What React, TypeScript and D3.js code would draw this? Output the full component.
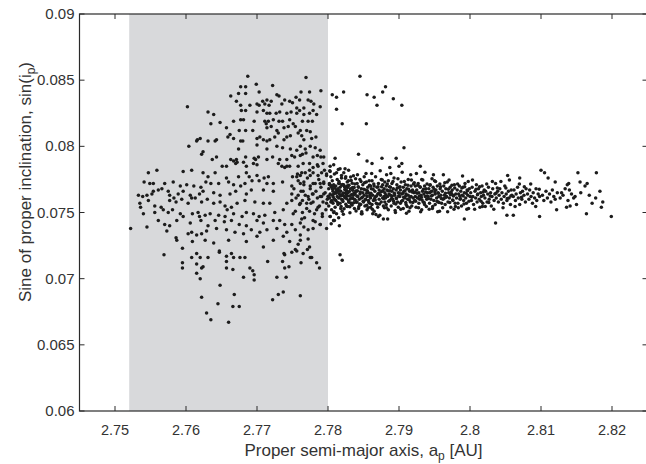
import React from "react";
import * as d3 from "d3";

type Pt = [number, number];

const xTicks = [2.75, 2.76, 2.77, 2.78, 2.79, 2.8, 2.81, 2.82];
const xTickLabels = ["2.75", "2.76", "2.77", "2.78", "2.79", "2.8", "2.81", "2.82"];
const yTicks = [0.06, 0.065, 0.07, 0.075, 0.08, 0.085, 0.09];
const yTickLabels = ["0.06", "0.065", "0.07", "0.075", "0.08", "0.085", "0.09"];
const xDomain = [2.745, 2.825];
const yDomain = [0.06, 0.09];
const shadedBand = [2.752, 2.78];

const grayUpper: Pt[] = [
  [2.7687,0.0853],[2.7769,0.0852],[2.7699,0.0847],[2.7722,0.0846],[2.7677,0.0845],[2.7684,0.0845],[2.7703,0.0841],[2.7762,0.0841],[2.7774,0.0841],[2.7790,0.0842],[2.7663,0.0838],[2.7674,0.0840],[2.7684,0.0840],[2.7728,0.0839],[2.7731,0.0838],[2.7755,0.0837],
  [2.7671,0.0834],[2.7708,0.0834],[2.7714,0.0835],[2.7720,0.0834],[2.7739,0.0835],[2.7746,0.0834],[2.7750,0.0833],[2.7760,0.0835],[2.7772,0.0835],[2.7776,0.0834],[2.7780,0.0832],
  [2.7602,0.0830],[2.7677,0.0831],[2.7690,0.0831],[2.7700,0.0832],[2.7703,0.0831],[2.7711,0.0832],[2.7717,0.0831],[2.7735,0.0832],[2.7756,0.0829],[2.7760,0.0827],[2.7766,0.0829],[2.7779,0.0827],[2.7789,0.0830],
  [2.7631,0.0826],[2.7639,0.0824],[2.7678,0.0827],[2.7684,0.0827],[2.7700,0.0826],[2.7709,0.0827],[2.7714,0.0825],[2.7718,0.0825],[2.7727,0.0825],[2.7732,0.0826],[2.7742,0.0825],[2.7748,0.0826],[2.7756,0.0825],[2.7766,0.0824],[2.7774,0.0825],[2.7784,0.0824],
  [2.7635,0.0817],[2.7648,0.0818],[2.7667,0.0819],[2.7677,0.0820],[2.7681,0.0820],[2.7696,0.0819],[2.7711,0.0819],[2.7716,0.0819],[2.7713,0.0817],[2.7723,0.0820],[2.7731,0.0819],[2.7736,0.0819],[2.7746,0.0820],[2.7751,0.0817],[2.7764,0.0819],[2.7772,0.0819],[2.7778,0.0819],
  [2.7657,0.0814],[2.7675,0.0812],[2.7684,0.0812],[2.7694,0.0812],[2.7714,0.0814],[2.7720,0.0815],[2.7728,0.0812],[2.7738,0.0814],[2.7744,0.0815],[2.7754,0.0815],[2.7761,0.0812],[2.7770,0.0812],[2.7775,0.0811],
  [2.7616,0.0805],[2.7615,0.0804],[2.7620,0.0806],[2.7631,0.0804],[2.7641,0.0804],[2.7643,0.0805],[2.7659,0.0807],[2.7662,0.0809],[2.7667,0.0806],[2.7677,0.0804],[2.7680,0.0804],[2.7700,0.0806],[2.7704,0.0807],[2.7709,0.0805],[2.7714,0.0804],[2.7718,0.0805],[2.7725,0.0807],[2.7730,0.0810],[2.7738,0.0805],[2.7742,0.0807],[2.7747,0.0808],[2.7758,0.0810],[2.7763,0.0808],[2.7766,0.0805],[2.7777,0.0806],[2.7783,0.0807],
  [2.7604,0.0800],[2.7622,0.0794],[2.7624,0.0796],[2.7674,0.0798],[2.7700,0.0801],[2.7714,0.0798],[2.7728,0.0800],[2.7736,0.0799],[2.7747,0.0798],[2.7756,0.0797],[2.7761,0.0800],[2.7768,0.0798],[2.7775,0.0800],[2.7782,0.0799],[2.7789,0.0797],
  [2.7637,0.0790],[2.7643,0.0792],[2.7663,0.0790],[2.7667,0.0789],[2.7671,0.0790],[2.7684,0.0792],[2.7696,0.0791],[2.7698,0.0790],[2.7702,0.0792],[2.7714,0.0790],[2.7722,0.0792],[2.7732,0.0790],[2.7742,0.0790],[2.7749,0.0793],[2.7753,0.0792],[2.7761,0.0793],[2.7764,0.0794],[2.7769,0.0795],[2.7779,0.0792],[2.7785,0.0793],[2.7790,0.0792],[2.7794,0.0792],
];

const grayMiddle: Pt[] = [
  [2.7651,0.0785],[2.7657,0.0785],[2.7670,0.0787],[2.7672,0.0788],[2.7681,0.0788],[2.7685,0.0785],[2.7695,0.0787],[2.7700,0.0786],[2.7730,0.0787],[2.7735,0.0785],[2.7739,0.0784],[2.7742,0.0785],[2.7746,0.0785],[2.7758,0.0785],[2.7765,0.0787],[2.7774,0.0787],[2.7779,0.0784],[2.7785,0.0786],[2.7793,0.0787],[2.7803,0.0785],[2.7808,0.0786],[2.7817,0.0783],[2.7824,0.0783],[2.7829,0.0782],
  [2.7547,0.0780],[2.7559,0.0782],[2.7596,0.0781],[2.7608,0.0782],[2.7624,0.0780],[2.7631,0.0777],[2.7641,0.0780],[2.7657,0.0776],[2.7674,0.0777],[2.7685,0.0780],[2.7689,0.0777],[2.7700,0.0778],[2.7710,0.0776],[2.7716,0.0777],[2.7750,0.0777],[2.7756,0.0777],[2.7761,0.0778],[2.7763,0.0780],[2.7768,0.0780],[2.7775,0.0778],[2.7779,0.0780],[2.7786,0.0778],[2.7791,0.0780],[2.7798,0.0778],[2.7803,0.0781],[2.7812,0.0780],[2.7819,0.0778],[2.7825,0.0777],
  [2.7541,0.0773],[2.7549,0.0772],[2.7554,0.0772],[2.7570,0.0772],[2.7582,0.0773],[2.7592,0.0770],[2.7601,0.0771],[2.7611,0.0770],[2.7621,0.0769],[2.7628,0.0773],[2.7635,0.0772],[2.7646,0.0772],[2.7660,0.0773],[2.7667,0.0771],[2.7677,0.0770],[2.7683,0.0772],[2.7693,0.0774],[2.7703,0.0774],[2.7714,0.0772],[2.7723,0.0772],[2.7736,0.0773],[2.7749,0.0770],[2.7761,0.0772],[2.7766,0.0773],[2.7775,0.0770],[2.7782,0.0772],[2.7789,0.0772],[2.7794,0.0772],[2.7802,0.0771],[2.7808,0.0770],[2.7815,0.0772],[2.7822,0.0771],[2.7827,0.0770],
  [2.7533,0.0763],[2.7539,0.0762],[2.7545,0.0763],[2.7552,0.0764],[2.7554,0.0766],[2.7561,0.0767],[2.7566,0.0768],[2.7575,0.0766],[2.7577,0.0763],[2.7589,0.0764],[2.7596,0.0766],[2.7606,0.0763],[2.7613,0.0761],[2.7619,0.0764],[2.7624,0.0766],[2.7639,0.0765],[2.7648,0.0763],[2.7662,0.0764],[2.7670,0.0766],[2.7685,0.0764],[2.7692,0.0767],[2.7709,0.0767],[2.7723,0.0766],[2.7749,0.0764],[2.7758,0.0763],[2.7765,0.0766],[2.7772,0.0762],[2.7779,0.0764],[2.7789,0.0762],[2.7794,0.0764],[2.7800,0.0762],[2.7808,0.0764],[2.7815,0.0766],[2.7819,0.0763],[2.7826,0.0764],
  [2.7535,0.0757],[2.7536,0.0754],[2.7547,0.0759],[2.7556,0.0755],[2.7565,0.0754],[2.7577,0.0759],[2.7583,0.0761],[2.7586,0.0758],[2.7594,0.0760],[2.7603,0.0757],[2.7608,0.0761],[2.7622,0.0758],[2.7630,0.0760],[2.7639,0.0757],[2.7648,0.0758],[2.7655,0.0755],[2.7664,0.0754],[2.7672,0.0757],[2.7683,0.0759],[2.7697,0.0758],[2.7709,0.0757],[2.7718,0.0757],[2.7742,0.0757],[2.7749,0.0759],[2.7761,0.0757],[2.7770,0.0757],[2.7779,0.0758],[2.7786,0.0754],[2.7798,0.0757],[2.7805,0.0759],
];

const grayLower: Pt[] = [
  [2.7540,0.0749],[2.7556,0.0750],[2.7568,0.0752],[2.7575,0.0750],[2.7581,0.0752],[2.7592,0.0749],[2.7596,0.0747],[2.7609,0.0749],[2.7617,0.0750],[2.7619,0.0747],[2.7627,0.0748],[2.7634,0.0749],[2.7646,0.0748],[2.7655,0.0747],[2.7658,0.0752],[2.7667,0.0749],[2.7679,0.0747],[2.7685,0.0750],[2.7695,0.0749],[2.7703,0.0747],[2.7711,0.0748],[2.7725,0.0750],[2.7737,0.0752],[2.7751,0.0749],[2.7764,0.0750],[2.7774,0.0751],[2.7784,0.0752],[2.7792,0.0749],[2.7803,0.0747],[2.7808,0.0750],
  [2.7545,0.0739],[2.7561,0.0744],[2.7570,0.0741],[2.7577,0.0740],[2.7587,0.0744],[2.7606,0.0742],[2.7621,0.0744],[2.7631,0.0740],[2.7641,0.0744],[2.7654,0.0743],[2.7664,0.0744],[2.7675,0.0741],[2.7685,0.0740],[2.7700,0.0744],[2.7709,0.0742],[2.7723,0.0744],[2.7732,0.0744],[2.7739,0.0741],[2.7749,0.0741],[2.7761,0.0742],[2.7766,0.0739],[2.7779,0.0744],[2.7789,0.0741],[2.7808,0.0744],[2.7816,0.0740],
  [2.7522,0.0738],[2.7573,0.0736],[2.7586,0.0731],[2.7603,0.0734],[2.7608,0.0735],[2.7615,0.0733],[2.7622,0.0734],[2.7629,0.0736],[2.7643,0.0738],[2.7657,0.0737],[2.7669,0.0735],[2.7681,0.0734],[2.7692,0.0737],[2.7704,0.0735],[2.7714,0.0737],[2.7728,0.0738],[2.7742,0.0735],[2.7754,0.0737],[2.7761,0.0733],[2.7772,0.0737],[2.7779,0.0738],[2.7798,0.0738],
  [2.7587,0.0729],[2.7609,0.0728],[2.7627,0.0729],[2.7639,0.0727],[2.7660,0.0729],[2.7685,0.0728],[2.7700,0.0732],[2.7709,0.0724],[2.7723,0.0729],[2.7737,0.0732],[2.7746,0.0728],[2.7761,0.0729],[2.7772,0.0730],
  [2.7569,0.0718],[2.7608,0.0716],[2.7615,0.0719],[2.7620,0.0716],[2.7631,0.0716],[2.7647,0.0720],[2.7657,0.0717],[2.7664,0.0719],[2.7667,0.0716],[2.7676,0.0716],[2.7683,0.0716],[2.7739,0.0718],[2.7749,0.0720],[2.7756,0.0721],[2.7765,0.0719],[2.7775,0.0716],
  [2.7595,0.0723],[2.7647,0.0721],[2.7771,0.0722],[2.7774,0.0724],[2.7758,0.0726],[2.7777,0.0716],[2.7738,0.0719],[2.7754,0.0722],
];

const grayTail: Pt[] = [
  [2.7595,0.0712],[2.7595,0.0708],[2.7615,0.0711],[2.7624,0.0709],[2.7622,0.0708],[2.7615,0.0704],[2.7620,0.0700],[2.7648,0.0695],[2.7622,0.0686],[2.7668,0.0688],[2.7645,0.0681],[2.7666,0.0679],[2.7675,0.0679],[2.7629,0.0674],[2.7635,0.0669],[2.7660,0.0667],
  [2.7681,0.0701],[2.7690,0.0708],[2.7694,0.0706],[2.7696,0.0703],[2.7696,0.0699],[2.7657,0.0713],[2.7657,0.0708],[2.7666,0.0707],[2.7715,0.0713],[2.7728,0.0701],[2.7741,0.0701],[2.7736,0.0713],[2.7739,0.0708],[2.7745,0.0709],[2.7762,0.0712],[2.7784,0.0712],[2.7788,0.0708],[2.7761,0.0687],[2.7722,0.0684],[2.7730,0.0688],[2.7737,0.0690],[2.7817,0.0718],[2.7820,0.0714],
];

const transitionPoints: Pt[] = [
  [2.7752,0.0768],[2.7755,0.0761],[2.7758,0.0774],[2.7760,0.0756],[2.7762,0.0766],[2.7764,0.0759],[2.7766,0.0771],[2.7768,0.0763],[2.7770,0.0753],[2.7771,0.0776],[2.7773,0.0760],[2.7775,0.0768],[2.7776,0.0757],[2.7778,0.0764],[2.7779,0.0772],[2.7781,0.0749],[2.7783,0.0766],[2.7785,0.0761],[2.7787,0.0775],[2.7788,0.0755],[2.7790,0.0769],[2.7791,0.0762],[2.7793,0.0758],[2.7794,0.0773],[2.7796,0.0765],[2.7797,0.0752],[2.7798,0.0779],[2.7799,0.0760],
  [2.7754,0.0751],[2.7767,0.0746],[2.7774,0.0782],[2.7782,0.0743],[2.7786,0.0785],[2.7792,0.0747],[2.7795,0.0782],[2.7757,0.0779],[2.7763,0.0745],[2.7789,0.0741],
];

const clusterWest: Pt[] = [
  [2.7801,0.0768],[2.7801,0.0755],[2.7802,0.0772],[2.7802,0.0761],[2.7803,0.0747],[2.7803,0.0764],[2.7804,0.0777],[2.7804,0.0758],[2.7805,0.0769],[2.7805,0.0752],[2.7806,0.0763],[2.7806,0.0774],[2.7807,0.0757],[2.7807,0.0766],[2.7808,0.0744],[2.7808,0.0771],[2.7809,0.0760],[2.7809,0.0779],[2.7810,0.0765],[2.7810,0.0754],[2.7811,0.0770],[2.7811,0.0759],[2.7812,0.0767],[2.7812,0.0749],[2.7813,0.0762],[2.7813,0.0775],[2.7814,0.0756],[2.7814,0.0768],[2.7815,0.0761],[2.7815,0.0746],[2.7816,0.0772],[2.7816,0.0764],[2.7817,0.0757],[2.7817,0.0769],[2.7818,0.0753],[2.7818,0.0766],[2.7819,0.0776],[2.7819,0.0760],[2.7820,0.0763],[2.7820,0.0751],
  [2.78015,0.07625],[2.78035,0.07705],[2.78055,0.07585],[2.78075,0.07615],[2.78095,0.07685],[2.78115,0.07645],[2.78135,0.07575],[2.78155,0.07735],[2.78175,0.07625],[2.78195,0.07705],[2.78025,0.07815],[2.78085,0.07505],[2.78145,0.07825],[2.78045,0.07415],[2.78125,0.07655],[2.78185,0.07545],[2.78065,0.07675],[2.78105,0.07595],[2.78165,0.07665],[2.78205,0.07595],
  [2.78204,0.07712],[2.78211,0.07583],[2.78219,0.07647],[2.78226,0.07528],[2.78232,0.07694],[2.78238,0.07611],[2.78245,0.07759],[2.78251,0.07562],[2.78259,0.07668],[2.78263,0.07603],[2.78271,0.07731],[2.78277,0.07545],[2.78284,0.07652],[2.78290,0.07589],[2.78296,0.07706],[2.78302,0.07624],[2.78309,0.07498],[2.78315,0.07679],[2.78322,0.07571],[2.78327,0.07742],[2.78333,0.07636],[2.78340,0.07556],[2.78346,0.07689],[2.78353,0.07605],[2.78358,0.07778],[2.78365,0.07648],[2.78372,0.07531],[2.78378,0.07715],[2.78384,0.07594],[2.78391,0.07663],[2.78397,0.07577],
  [2.78208,0.07639],[2.78222,0.07801],[2.78236,0.07673],[2.78249,0.07617],[2.78262,0.07547],[2.78275,0.07688],[2.78288,0.07739],[2.78301,0.07658],[2.78314,0.07602],[2.78329,0.07566],[2.78341,0.07721],[2.78356,0.07631],[2.78369,0.07689],[2.78382,0.07642],[2.78395,0.07512],[2.78216,0.07486],[2.78243,0.07692],[2.78268,0.07627],[2.78294,0.07578],[2.78319,0.07768],[2.78348,0.07669],[2.78374,0.07598],[2.78389,0.07755],[2.78228,0.07622],[2.78257,0.07653],[2.78281,0.07701],[2.78307,0.07544],[2.78336,0.07612],[2.78362,0.07574],
  [2.7840,0.0766],[2.7841,0.0758],[2.7841,0.0772],[2.7842,0.0762],[2.7843,0.0753],[2.7843,0.0769],[2.7844,0.0760],[2.7845,0.0775],[2.7845,0.0764],[2.7846,0.0756],[2.7847,0.0768],[2.7847,0.0761],[2.7848,0.0749],[2.7849,0.0771],[2.7849,0.0765],[2.7850,0.0758],[2.7851,0.0763],[2.7851,0.0777],[2.7852,0.0755],[2.7853,0.0767],[2.7853,0.0760],[2.7854,0.0773],[2.7855,0.0762],[2.7855,0.0752],[2.7856,0.0769],[2.7857,0.0759],[2.7857,0.0765],[2.7858,0.0774],[2.7859,0.0757],[2.7859,0.0763],[2.7860,0.0770],[2.7860,0.0754],
  [2.78405,0.07625],[2.78425,0.07695],[2.78445,0.07565],[2.78465,0.07735],[2.78485,0.07615],[2.78505,0.07675],[2.78525,0.07595],[2.78545,0.07645],[2.78565,0.07535],[2.78585,0.07705],[2.78415,0.07785],[2.78475,0.07505],[2.78535,0.07795],[2.78595,0.07615],[2.78455,0.07655],[2.78515,0.07725],[2.78575,0.07575],[2.78435,0.07545],[2.78495,0.07585],[2.78555,0.07665],[2.78415,0.07665],[2.78545,0.07555],
  [2.7860,0.0761],[2.7861,0.0768],[2.7862,0.0756],[2.7862,0.0774],[2.7863,0.0763],[2.7864,0.0759],[2.7865,0.0770],[2.7865,0.0751],[2.7866,0.0766],[2.7867,0.0762],[2.7867,0.0777],[2.7868,0.0757],[2.7869,0.0769],[2.7870,0.0764],[2.7870,0.0754],[2.7871,0.0772],[2.7872,0.0760],[2.7872,0.0767],[2.7873,0.0748],[2.7874,0.0763],[2.7875,0.0775],[2.7875,0.0758],[2.7876,0.0766],[2.7877,0.0761],[2.7877,0.0771],[2.7878,0.0755],[2.7879,0.0768],[2.7879,0.0762],[2.7880,0.0758],[2.7880,0.0773],
  [2.78605,0.07645],[2.78625,0.07525],[2.78645,0.07715],[2.78665,0.07595],[2.78685,0.07625],[2.78705,0.07695],[2.78725,0.07565],[2.78745,0.07655],[2.78765,0.07745],[2.78785,0.07605],[2.78615,0.07795],[2.78675,0.07485],[2.78735,0.07815],[2.78795,0.07535],[2.78635,0.07675],[2.78695,0.07565],[2.78755,0.07695],[2.78655,0.07605],[2.78715,0.07645],[2.78775,0.07665],
  [2.7880,0.0765],[2.7881,0.0761],[2.7882,0.0770],[2.7882,0.0756],[2.7883,0.0767],[2.7884,0.0762],[2.7885,0.0774],[2.7885,0.0752],[2.7886,0.0764],[2.7887,0.0759],[2.7888,0.0769],[2.7888,0.0763],[2.7889,0.0755],[2.7890,0.0772],[2.7890,0.0766],[2.7891,0.0760],[2.7892,0.0768],[2.7893,0.0757],[2.7893,0.0776],[2.7894,0.0763],[2.7895,0.0750],[2.7896,0.0767],[2.7896,0.0761],[2.7897,0.0771],[2.7898,0.0758],[2.7899,0.0765],[2.7899,0.0754],[2.7900,0.0769],
  [2.78815,0.07635],[2.78835,0.07715],[2.78855,0.07585],[2.78875,0.07665],[2.78895,0.07605],[2.78915,0.07735],[2.78935,0.07645],[2.78955,0.07565],[2.78975,0.07685],[2.78995,0.07625],[2.78825,0.07535],[2.78885,0.07795],[2.78945,0.07515],[2.78865,0.07695],[2.78925,0.07585],[2.78985,0.07755],[2.78845,0.07665],[2.78905,0.07625],[2.78965,0.07605],[2.78825,0.07785],
];

const clusterEast: Pt[] = [
  [2.7901,0.0762],[2.7902,0.0767],[2.7902,0.0757],[2.7903,0.0773],[2.7904,0.0764],[2.7905,0.0759],[2.7906,0.0769],[2.7906,0.0753],[2.7907,0.0766],[2.7908,0.0761],[2.7909,0.0771],[2.7910,0.0756],[2.7910,0.0764],[2.7911,0.0768],[2.7912,0.0760],[2.7913,0.0775],[2.7913,0.0763],[2.7914,0.0751],[2.7915,0.0766],[2.7916,0.0758],[2.7917,0.0770],[2.7917,0.0762],[2.7918,0.0755],[2.7919,0.0767],[2.7920,0.0761],
  [2.79015,0.07695],[2.79035,0.07585],[2.79055,0.07645],[2.79075,0.07735],[2.79095,0.07625],[2.79115,0.07545],[2.79135,0.07675],[2.79155,0.07615],[2.79175,0.07745],[2.79195,0.07575],[2.79045,0.07805],[2.79105,0.07495],[2.79165,0.07785],[2.79025,0.07525],[2.79085,0.07665],[2.79145,0.07595],[2.79185,0.07655],[2.79065,0.07615],[2.79125,0.07705],[2.79005,0.07645],[2.79155,0.07535],[2.79205,0.07715],[2.79095,0.07575],
  [2.7921,0.0765],[2.7922,0.0759],[2.7923,0.0770],[2.7923,0.0762],[2.7924,0.0754],[2.7925,0.0767],[2.7926,0.0761],[2.7927,0.0772],[2.7928,0.0757],[2.7928,0.0765],[2.7929,0.0760],[2.7930,0.0769],[2.7931,0.0763],[2.7932,0.0752],[2.7932,0.0775],[2.7933,0.0766],[2.7934,0.0758],[2.7935,0.0764],[2.7936,0.0770],[2.7936,0.0756],[2.7937,0.0762],[2.7938,0.0768],[2.7939,0.0760],[2.7940,0.0765],
  [2.79215,0.07725],[2.79235,0.07585],[2.79255,0.07645],[2.79275,0.07535],[2.79295,0.07695],[2.79315,0.07615],[2.79335,0.07745],[2.79355,0.07575],[2.79375,0.07655],[2.79395,0.07715],[2.79245,0.07795],[2.79305,0.07505],[2.79365,0.07805],[2.79285,0.07625],[2.79345,0.07675],[2.79225,0.07655],[2.79385,0.07545],[2.79265,0.07705],[2.79325,0.07595],[2.79395,0.07625],
  [2.7941,0.0762],[2.7942,0.0768],[2.7943,0.0757],[2.7943,0.0765],[2.7944,0.0771],[2.7945,0.0760],[2.7946,0.0766],[2.7947,0.0753],[2.7947,0.0763],[2.7948,0.0769],[2.7949,0.0759],[2.7950,0.0774],[2.7951,0.0764],[2.7951,0.0756],[2.7952,0.0767],[2.7953,0.0761],[2.7954,0.0770],[2.7955,0.0758],[2.7955,0.0765],[2.7956,0.0762],[2.7957,0.0751],[2.7958,0.0768],[2.7959,0.0763],[2.7960,0.0757],
  [2.79415,0.07605],[2.79435,0.07705],[2.79455,0.07625],[2.79475,0.07545],[2.79495,0.07675],[2.79515,0.07735],[2.79535,0.07585],[2.79555,0.07645],[2.79575,0.07715],[2.79595,0.07605],[2.79425,0.07525],[2.79485,0.07785],[2.79545,0.07505],[2.79505,0.07655],[2.79565,0.07575],[2.79445,0.07655],[2.79585,0.07695],[2.79465,0.07755],
  [2.7961,0.0766],[2.7962,0.0760],[2.7963,0.0770],[2.7964,0.0763],[2.7965,0.0756],[2.7966,0.0768],[2.7967,0.0762],[2.7968,0.0773],[2.7969,0.0758],[2.7970,0.0765],[2.7971,0.0761],[2.7972,0.0769],[2.7973,0.0754],[2.7974,0.0764],[2.7975,0.0767],[2.7976,0.0759],[2.7977,0.0763],[2.7978,0.0771],[2.7979,0.0757],[2.7980,0.0764],
  [2.79615,0.07535],[2.79645,0.07725],[2.79665,0.07615],[2.79695,0.07675],[2.79715,0.07575],[2.79745,0.07705],[2.79765,0.07625],[2.79795,0.07545],[2.79625,0.07785],[2.79685,0.07505],[2.79735,0.07655],[2.79785,0.07685],[2.79655,0.07645],[2.79705,0.07745],[2.79755,0.07595],[2.79635,0.07605],[2.79775,0.07525],[2.79725,0.07635],
  [2.7981,0.0761],[2.7982,0.0767],[2.7983,0.0757],[2.7984,0.0764],[2.7985,0.0770],[2.7986,0.0760],[2.7987,0.0766],[2.7988,0.0755],[2.7989,0.0763],[2.7990,0.0769],[2.7991,0.0759],[2.7992,0.0765],[2.7993,0.0772],[2.7994,0.0761],[2.7995,0.0757],[2.7996,0.0767],[2.7997,0.0763],[2.7998,0.0753],[2.7999,0.0768],[2.8000,0.0762],
  [2.79825,0.07715],[2.79855,0.07625],[2.79885,0.07685],[2.79915,0.07565],[2.79945,0.07645],[2.79975,0.07735],[2.79835,0.07535],[2.79895,0.07775],[2.79955,0.07525],[2.79865,0.07605],[2.79925,0.07695],[2.79985,0.07585],[2.79905,0.07625],[2.79965,0.07665],
];

const clusterTail: Pt[] = [
  [2.8001,0.0765],[2.8002,0.0759],[2.8003,0.0769],[2.8004,0.0762],[2.8005,0.0756],[2.8007,0.0766],[2.8008,0.0761],[2.8009,0.0771],[2.8010,0.0758],[2.8011,0.0764],[2.8012,0.0768],[2.8013,0.0760],[2.8014,0.0754],[2.8015,0.0765],[2.8016,0.0762],[2.8017,0.0770],[2.8018,0.0757],[2.8019,0.0763],[2.8020,0.0767],
  [2.80035,0.07745],[2.80065,0.07525],[2.80105,0.07635],[2.80135,0.07695],[2.80155,0.07585],[2.80185,0.07655],[2.80025,0.07615],[2.80085,0.07675],[2.80175,0.07545],
  [2.8021,0.0761],[2.8022,0.0766],[2.8024,0.0758],[2.8025,0.0764],[2.8026,0.0769],[2.8027,0.0760],[2.8029,0.0765],[2.8030,0.0755],[2.8031,0.0762],[2.8032,0.0768],[2.8034,0.0759],[2.8035,0.0764],[2.8036,0.0772],[2.8037,0.0761],[2.8039,0.0766],[2.8040,0.0758],
  [2.80235,0.07715],[2.80285,0.07625],[2.80335,0.07525],[2.80385,0.07685],[2.80265,0.07575],[2.80315,0.07735],[2.80365,0.07645],[2.80215,0.07545],
  [2.8041,0.0763],[2.8042,0.0768],[2.8044,0.0760],[2.8045,0.0765],[2.8047,0.0757],[2.8048,0.0762],[2.8049,0.0770],[2.8051,0.0764],[2.8052,0.0759],[2.8054,0.0766],[2.8055,0.0761],[2.8057,0.0756],[2.8058,0.0767],[2.8059,0.0763],
  [2.80435,0.07735],[2.80465,0.07535],[2.80505,0.07685],[2.80555,0.07745],[2.80575,0.07625],[2.80525,0.07605],
  [2.8061,0.0762],[2.8062,0.0767],[2.8064,0.0759],[2.8065,0.0764],[2.8067,0.0769],[2.8068,0.0761],[2.8070,0.0756],[2.8071,0.0765],[2.8073,0.0760],[2.8074,0.0766],[2.8076,0.0763],[2.8078,0.0758],[2.8079,0.0768],
  [2.80635,0.07545],[2.80695,0.07715],[2.80725,0.07615],[2.80765,0.07695],
  [2.8081,0.0764],[2.8083,0.0760],[2.8084,0.0767],[2.8086,0.0762],[2.8088,0.0757],[2.8089,0.0765],[2.8091,0.0761],[2.8093,0.0768],[2.8094,0.0759],[2.8096,0.0764],[2.8098,0.0762],
  [2.80855,0.07715],[2.80925,0.07545],[2.80975,0.07675],
  [2.8102,0.0763],[2.8104,0.0759],[2.8107,0.0766],[2.8109,0.0761],[2.8112,0.0764],[2.8114,0.0758],[2.8116,0.0767],[2.8118,0.0762],[2.8120,0.0760],
  [2.8123,0.0765],[2.8127,0.0761],[2.8131,0.0763],[2.8134,0.0768],[2.8138,0.0759],[2.8143,0.0764],[2.8148,0.0762],[2.8156,0.0765],
  [2.8168,0.0763],[2.8172,0.0757],[2.8183,0.0766],
];

const scatteredOutliers: Pt[] = [
  [2.7845,0.0853],[2.7806,0.0839],[2.7812,0.0837],[2.7822,0.0841],[2.7812,0.0828],[2.7820,0.0817],[2.7855,0.0839],[2.7865,0.0837],[2.7869,0.0831],[2.7877,0.0841],[2.7881,0.0845],[2.7892,0.0836],[2.7904,0.0831],[2.7854,0.0817],[2.7907,0.0799],[2.7843,0.0794],[2.7810,0.0791],[2.7876,0.0791],[2.7896,0.0791],[2.7855,0.0789],[2.7862,0.0787],[2.7904,0.0787],[2.7900,0.0785],[2.7930,0.0785],[2.7887,0.0784],
  [2.8100,0.0782],[2.8105,0.0780],[2.8152,0.0780],[2.8178,0.0780],[2.8053,0.0778],[2.8070,0.0776],[2.8110,0.0776],[2.8120,0.0773],[2.8137,0.0771],[2.8139,0.0772],[2.8155,0.0773],[2.8162,0.0770],[2.8165,0.0772],[2.8129,0.0765],[2.8140,0.0767],[2.8146,0.0761],[2.8177,0.0761],[2.8187,0.0758],[2.8185,0.0754],[2.8164,0.0749],[2.8199,0.0747],[2.8150,0.0756],[2.8136,0.0754],[2.8141,0.0755],[2.8122,0.0752],[2.8098,0.0747],[2.8061,0.0748],[2.8052,0.0748],[2.8036,0.0742],[2.7992,0.0745],[2.7878,0.0745],[2.7884,0.0745],[2.7871,0.0747],[2.7863,0.0749],[2.7847,0.0749],[2.7809,0.0744],
];

const W = 646;
const H = 464;
const left = 79.5;
const right = 647.5;
const top = 14;
const bottom = 411;

export default function App() {
  const x = d3.scaleLinear().domain(xDomain).range([left, right]);
  const y = d3.scaleLinear().domain(yDomain).range([bottom, top]);
  const points: Pt[] = [
    ...grayUpper, ...grayMiddle, ...grayLower, ...grayTail, ...transitionPoints,
    ...clusterWest, ...clusterEast, ...clusterTail, ...scatteredOutliers,
  ];
  const axisColor = "#2a2a2a";
  const textColor = "#333";
  const font = "'Liberation Sans', Arial, Helvetica, sans-serif";
  const tickLen = 5;
  return (
    <svg width={W} height={H} style={{ position: "absolute", left: 0, top: 0, background: "#fff" }} fontFamily={font}>
      <rect x={x(shadedBand[0])} y={top} width={x(shadedBand[1]) - x(shadedBand[0])} height={bottom - top} fill="#d8d9db" />
      {points.map(([a, s], i) => (
        <circle key={i} cx={x(a)} cy={y(s)} r={1.75} fill="#1c1c1c" />
      ))}
      <rect x={left} y={top} width={right - left} height={bottom - top} fill="none" stroke={axisColor} strokeWidth={1.2} />
      {xTicks.map((t, i) => (
        <g key={"xt" + i}>
          <line x1={x(t)} x2={x(t)} y1={bottom} y2={bottom - tickLen} stroke={axisColor} strokeWidth={1} />
          <line x1={x(t)} x2={x(t)} y1={top} y2={top + tickLen} stroke={axisColor} strokeWidth={1} />
          <text x={x(t)} y={bottom + 24} textAnchor="middle" fontSize={14.5} fill={textColor}>{xTickLabels[i]}</text>
        </g>
      ))}
      {yTicks.map((t, i) => (
        <g key={"yt" + i}>
          <line x1={left} x2={left + tickLen} y1={y(t)} y2={y(t)} stroke={axisColor} strokeWidth={1} />
          <line x1={right} x2={right - tickLen} y1={y(t)} y2={y(t)} stroke={axisColor} strokeWidth={1} />
          <text x={left - 5} y={y(t) + 5} textAnchor="end" fontSize={15} fill={textColor}>{yTickLabels[i]}</text>
        </g>
      ))}
      <text x={(left + right) / 2} y={456} textAnchor="middle" fontSize={17} fill={textColor}>
        Proper semi-major axis, a<tspan fontSize={12} dy={4}>p</tspan><tspan dy={-4}> [AU]</tspan>
      </text>
      <text transform="translate(31,182) rotate(-90)" textAnchor="middle" fontSize={17} fill={textColor}>
        Sine of proper inclination, sin(i<tspan fontSize={12} dy={4}>p</tspan><tspan dy={-4}>)</tspan>
      </text>
    </svg>
  );
}
